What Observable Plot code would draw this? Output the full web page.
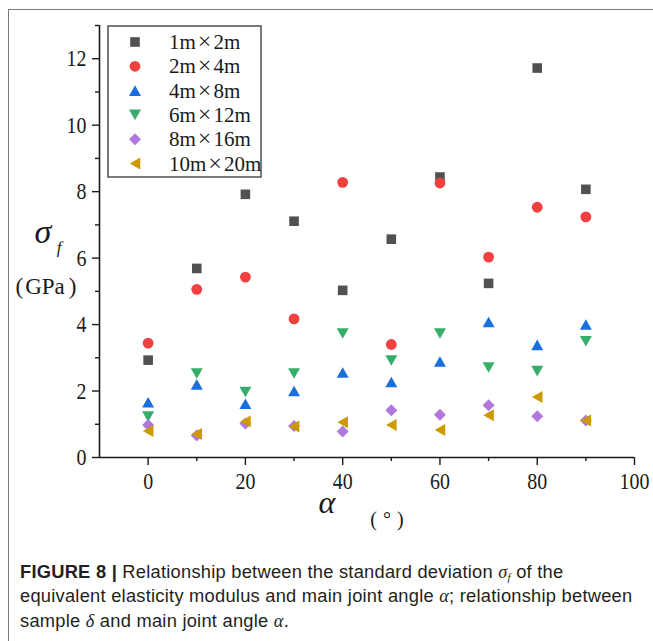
<!DOCTYPE html>
<html><head><meta charset="utf-8">
<script src="https://cdn.jsdelivr.net/npm/d3@7"></script>
<script src="https://cdn.jsdelivr.net/npm/@observablehq/plot@0.6"></script>
<style>
body{margin:0;background:#fff;}
#wrap{position:relative;width:653px;height:641px;overflow:hidden;background:#fff;}
#frame{position:absolute;left:8px;top:9px;width:700px;height:700px;border-top:1.5px solid #7a7a7a;border-left:1.5px solid #7a7a7a;}
#chart{position:absolute;left:0;top:0;}
#legend{position:absolute;left:0;top:0;}
#caption{position:absolute;left:20px;top:559.5px;font-family:"Liberation Sans",Arial,sans-serif;font-size:18.3px;letter-spacing:0.25px;line-height:24.6px;color:#231f20;white-space:nowrap;}
#caption b{font-weight:bold;}
#caption i{font-family:"Liberation Serif",serif;font-style:italic;}
#caption sub{font-size:11px;line-height:0;vertical-align:-3px;}
</style></head>
<body><div id="wrap"><div id="frame"></div><div id="chart"></div><div id="legend"></div>
<div id="caption"><b>FIGURE 8 |</b> Relationship between the standard deviation <i>σ<sub>f</sub></i> of the<br>equivalent elasticity modulus and main joint angle <i>α</i>; relationship between<br>sample <i>δ</i> and main joint angle <i>α</i>.</div>
</div>
<script>
const angles = [0,10,20,30,40,50,60,70,80,90];
const seriesNames = ["1m×2m","2m×4m","4m×8m","6m×12m","8m×16m","10m×20m"];
const s1 = [2.93,5.69,7.92,7.11,5.03,6.57,8.44,5.24,11.72,8.07];
const s2 = [3.44,5.06,5.43,4.17,8.28,3.40,8.26,6.03,7.53,7.24];
const s3 = [1.66,2.20,1.62,2.00,2.56,2.27,2.89,4.08,3.39,4.00];
const s4 = [1.23,2.53,1.97,2.53,3.73,2.92,3.73,2.71,2.60,3.50];
const s5 = [0.98,0.66,1.02,0.95,0.78,1.42,1.29,1.57,1.24,1.11];
const s6 = [0.80,0.71,1.08,0.93,1.06,0.98,0.83,1.27,1.82,1.11];
const colors = ["#515151","#F14040","#1A6FDF","#37AD6B","#B177DE","#CC9900"];
const xTicks = [0,20,40,60,80,100];
const xMinor = [10,30,50,70,90];
const yTicks = [0,2,4,6,8,10,12];
const yMinor = [1,3,5,7,9,11,13];

const allSeries = [s1,s2,s3,s4,s5,s6];
const data = allSeries.map((vals,i)=>angles.map((a,j)=>({series:seriesNames[i],angle:a,value:vals[j]})));

const rr = s => Math.sqrt(s/Math.PI);
const symbols = [
  {draw(c,s){const r=rr(s)*0.8;c.moveTo(-r,-r);c.lineTo(r,-r);c.lineTo(r,r);c.lineTo(-r,r);c.closePath();}},
  {draw(c,s){const r=rr(s)*0.9;c.moveTo(r,0);c.arc(0,0,r,0,2*Math.PI);c.closePath();}},
  {draw(c,s){const r=rr(s);const h=r*0.88;c.moveTo(0,-h);c.lineTo(r,h);c.lineTo(-r,h);c.closePath();}},
  {draw(c,s){const r=rr(s);const h=r*0.88;c.moveTo(0,h);c.lineTo(r,-h);c.lineTo(-r,-h);c.closePath();}},
  {draw(c,s){const r=rr(s);c.moveTo(0,-r);c.lineTo(r,0);c.lineTo(0,r);c.lineTo(-r,0);c.closePath();}},
  {draw(c,s){const r=rr(s);const w=r*0.88;c.moveTo(-w,0);c.lineTo(w,-r);c.lineTo(w,r);c.closePath();}}
];
const R = 6;
const ink = "#1a1a1a";
const serif = "Liberation Serif, Times New Roman, serif";

const chart = Plot.plot({
  width: 653, height: 545,
  marginLeft: 99, marginRight: 19, marginTop: 25, marginBottom: 88,
  x: {domain: [-10,100]},
  y: {domain: [0,13]},
  style: {fontFamily: serif, background: "transparent", overflow: "visible"},
  marks: [
    Plot.axisY({ticks: yTicks, tickSize: 7, tickPadding: 6, fontSize: 24, color: ink, strokeWidth: 1.4, label: null, tickFormat: d=>String(d)}),
    Plot.axisY({ticks: yMinor, tickSize: 4, text: null, color: ink, strokeWidth: 1.4, label: null}),
    Plot.axisX({ticks: xTicks, tickSize: 8, tickPadding: 6, fontSize: 24, color: ink, strokeWidth: 1.4, label: null, tickFormat: d=>String(d)}),
    Plot.axisX({ticks: xMinor, tickSize: 4, text: null, color: ink, strokeWidth: 1.4, label: null}),
    Plot.ruleX([-10], {y1: 0, y2: 13, stroke: ink, strokeWidth: 1.6}),
    Plot.ruleY([0], {x1: -10, x2: 100, stroke: ink, strokeWidth: 1.6}),
    ...data.map((d,i)=>Plot.dot(d, {x: "angle", y: "value", r: R, symbol: symbols[i], fill: colors[i], stroke: "none"}))
  ]
});
document.getElementById("chart").appendChild(chart);

const svg = d3.select(chart);
// condense the serif tick labels horizontally, as in the reference
svg.selectAll('g[aria-label="x-axis tick label"] text, g[aria-label="y-axis tick label"] text').each(function(){
  const tr = this.getAttribute("transform");
  if (tr) this.setAttribute("transform", tr + " scale(0.83,1)");
  else {
    const x = +this.getAttribute("x") || 0, y = +this.getAttribute("y") || 0;
    this.setAttribute("transform", `translate(${x},${y}) scale(0.83,1) translate(${-x},${-y})`);
  }
});
// axis titles
svg.append("text").attr("x",327).attr("y",513).attr("text-anchor","middle")
  .attr("font-family",serif).attr("font-style","italic").attr("font-size",32).attr("fill",ink).text("α");
const deg = svg.append("text").attr("x",387).attr("y",526).attr("text-anchor","middle")
  .attr("font-family",serif).attr("font-size",20).attr("fill",ink);
deg.append("tspan").text("(");
deg.append("tspan").attr("dx",6).text("°");
deg.append("tspan").attr("dx",6).text(")");
svg.append("text").attr("x",43).attr("y",243).attr("text-anchor","middle")
  .attr("font-family",serif).attr("font-style","italic").attr("font-size",34).attr("fill",ink).text("σ");
svg.append("text").attr("x",59).attr("y",253).attr("text-anchor","middle")
  .attr("font-family",serif).attr("font-style","italic").attr("font-size",17).attr("fill",ink).text("f");
const gpa = svg.append("text").attr("x",46).attr("y",294).attr("text-anchor","middle")
  .attr("font-family",serif).attr("font-size",23).attr("fill",ink);
gpa.append("tspan").text("(");
gpa.append("tspan").attr("dx",2).text("GPa");
gpa.append("tspan").attr("dx",4).text(")");

// legend
const lg = d3.select("#legend").append("svg").attr("width",653).attr("height",545);
lg.append("rect").attr("x",108).attr("y",26).attr("width",153).attr("height",151)
  .attr("fill","#fff").attr("stroke","#444").attr("stroke-width",1.4);
seriesNames.forEach((name,i)=>{
  const y = 42 + i*24.3;
  lg.append("path").attr("transform",`translate(135,${y})`)
    .attr("d", d3.symbol(symbols[i], Math.PI*R*R)()).attr("fill",colors[i]);
  const parts = name.split("×");
  const t = lg.append("text").attr("x",169).attr("y",y+7).attr("font-family",serif).attr("font-size",21).attr("fill",ink);
  t.append("tspan").text(parts[0]);
  t.append("tspan").attr("dx",2).attr("font-size",24).attr("font-weight",300).text("×");
  t.append("tspan").attr("dx",2).text(parts[1]);
});
</script>
</body></html>
